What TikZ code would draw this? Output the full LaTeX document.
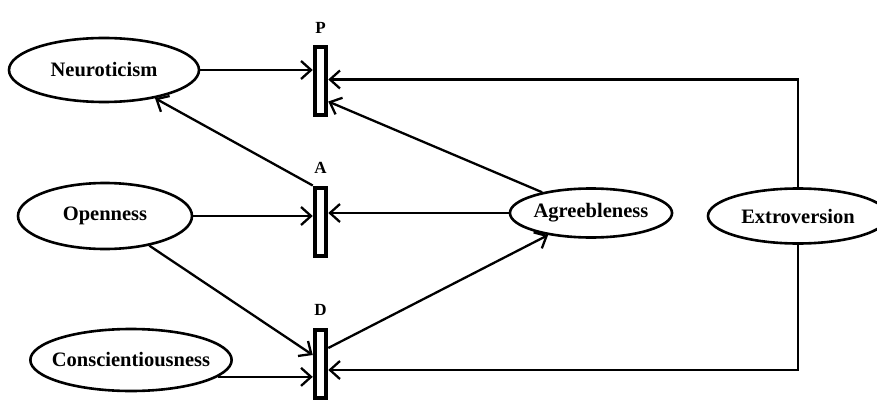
\documentclass[tikz,border=0pt]{standalone}
\usepackage{fontspec}
\setmainfont{Liberation Serif}
\usetikzlibrary{shapes.geometric,positioning,arrows.meta}

\begin{document}
\begin{tikzpicture}[%
x=1pt, y=-1pt,
trait/.style={draw, ellipse, line width=2.6pt, inner sep=0pt, font=\bfseries\fontsize{20.5}{22}\selectfont},
bar/.style={draw, rectangle, line width=4pt, minimum width=11.5pt, minimum height=68pt, inner sep=0pt},
barlabel/.style={font=\bfseries\fontsize{17}{19}\selectfont, inner sep=1pt},
link/.style={line width=2.3pt, -{Straight Barb[length=10pt,width=18pt]}},
]
\useasboundingbox (0,0) rectangle (877,401);
%% traits;
\node[trait, minimum width=190pt, minimum height=64pt] (neu) at (104,70) {Neuroticism};
\node[trait, minimum width=174pt, minimum height=66pt] (ope) at (105,216) {Openness};
\node[trait, minimum width=196pt, minimum height=62pt, inner xsep=-8pt] (con) at (131,360) {Conscientiousness};
\node[trait, minimum width=155pt, minimum height=49pt] (agr) at (591,213) {Agreebleness};
\node[trait, minimum width=180pt, minimum height=55pt] (ext) at (798,216) {Extroversion};
%% bars;
\node[bar] (pbar) at (320.5,81.5) {};
\node[bar] (abar) at (320.5,221.5) {};
\node[bar] (dbar) at (320.5,364) {};
\node[barlabel, above=11pt of pbar] (plab) {P};
\node[barlabel, above=11pt of abar] (alab) {A};
\node[barlabel, above=11pt of dbar] (dlab) {D};
%% links into P;
\draw[link] (neu.east) -- (neu.east -| pbar.west);
\draw[link] (ext.north) |- ([yshift=2pt]pbar.east);
\draw[link] (agr) -- ([yshift=-20pt]pbar.east);
%% links around A;
\draw[link] (abar.north west) -- (neu);
\draw[link] (ope.east) -- (ope.east -| abar.west);
\draw[link] (agr.west) -- (agr.west -| abar.east);
%% links around D;
\draw[link] (ope) -- ([yshift=9pt]dbar.west);
\draw[link] ([yshift=16pt]dbar.east) -- (agr);
\draw[link] (ext.south) |- ([yshift=-6pt]dbar.east);
\draw[link] (con.-11) -- (con.-11 -| dbar.west);
\end{tikzpicture}
\end{document}
